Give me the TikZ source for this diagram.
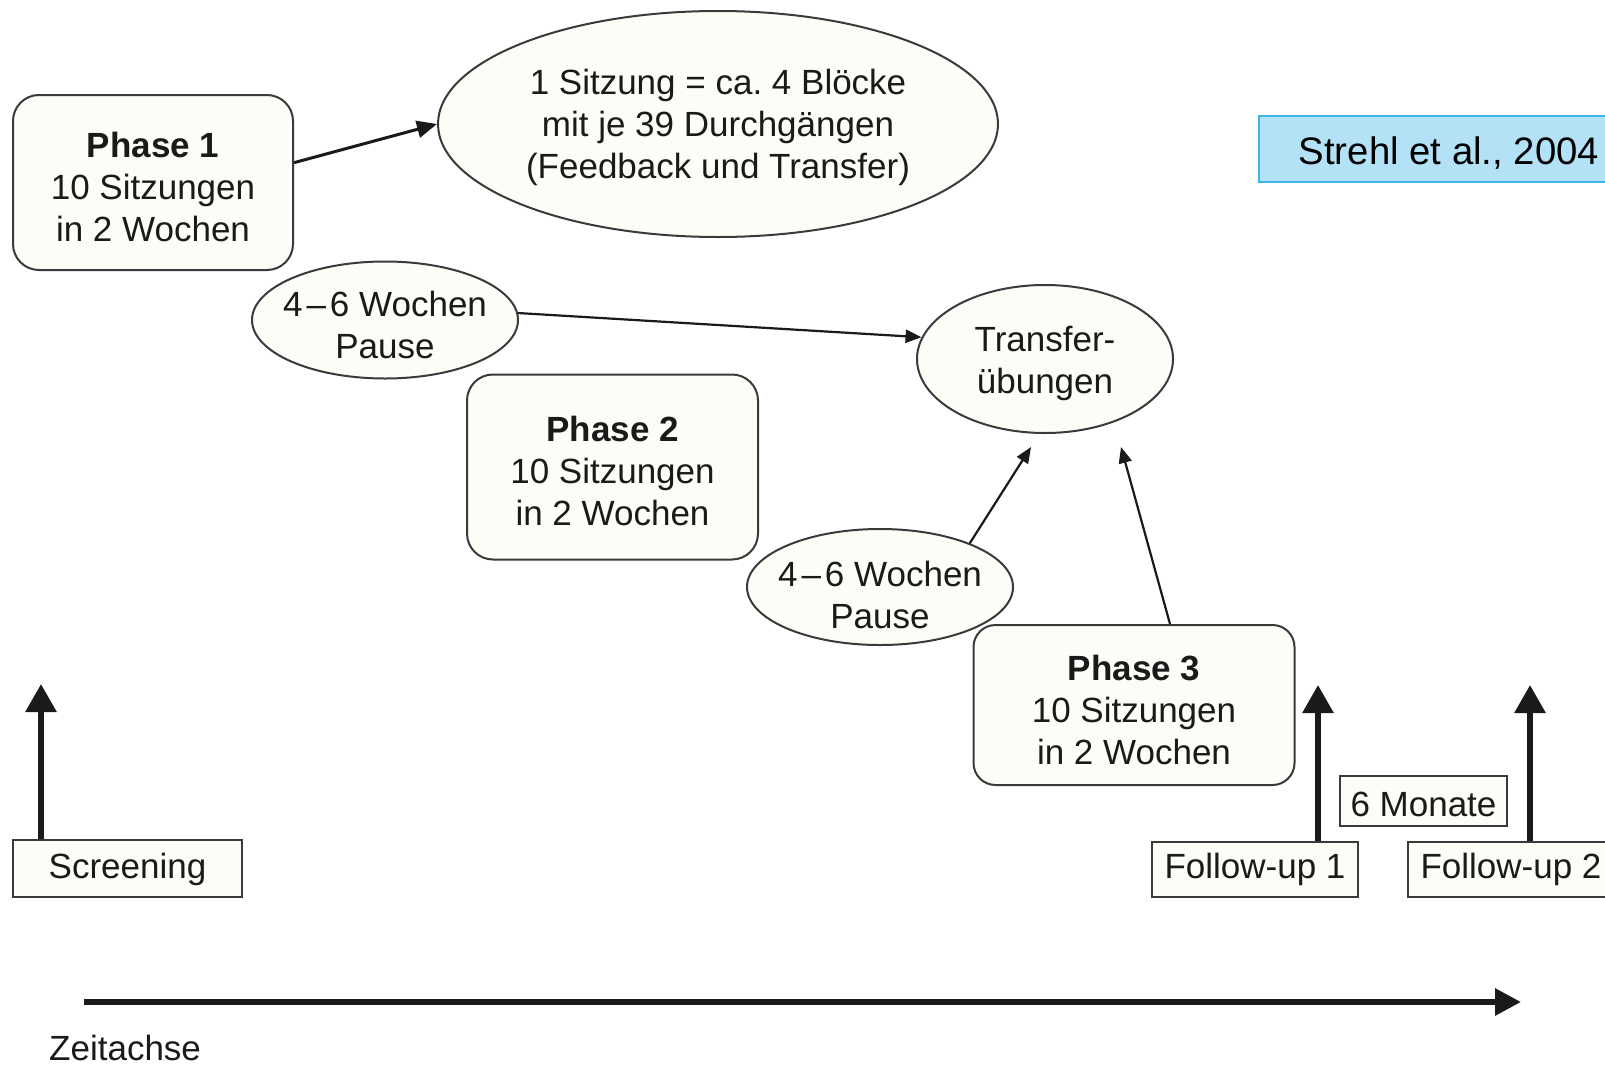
\documentclass[tikz,border=0pt]{standalone}
\usepackage{fontspec}
\setmainfont{Liberation Sans}
\usetikzlibrary{shapes.geometric,arrows.meta,calc}

\definecolor{inkc}{HTML}{1A1A1A}
\definecolor{edgec}{HTML}{3A3A3A}
\definecolor{paperc}{HTML}{FEFCF6}
\definecolor{citefill}{HTML}{B3E1F6}
\definecolor{citeedge}{HTML}{3EB4EC}

% invisible strut that lowers a multi-line node text a little
\newcommand\padtop[1]{\rule{0pt}{#1}}
\newcommand\wochenrange{4\kern4pt–\kern4pt6}
\frenchspacing

\begin{document}
\begin{tikzpicture}[x=1pt,y=-1pt,
  every node/.style={font=\fontsize{35}{42}\selectfont, text=inkc},
  phasebox/.style={draw=edgec, line width=2pt, fill=paperc, rounded corners=26pt,
                   align=center, inner sep=0pt},
  bubble/.style={ellipse, draw=edgec, line width=2pt, fill=paperc, align=center,
                 inner xsep=-14pt, inner ysep=-6pt},
  labelbox/.style={draw=edgec, line width=2pt, fill=paperc, inner sep=0pt},
  linkarrow/.style={draw=inkc, line width=3pt, -{Triangle[length=20pt,width=17pt]}},
  thinarrow/.style={draw=inkc, line width=2.2pt, -{Triangle[length=16pt,width=13pt]}},
  heavyarrow/.style={draw=inkc, line width=6pt, -{Triangle[length=28pt,width=30pt]}},
  axisarrow/.style={draw=inkc, line width=6pt, -{Triangle[length=26pt,width=26pt]}}
]
\useasboundingbox (0,0) rectangle (1605,1068);
\clip (0,0) rectangle (1605,1068);
\fill[white] (0,0) rectangle (1605,1068);

% training phases
\node[phasebox, minimum width=280pt, minimum height=175pt] (p1) at (153,182.5)
  {\padtop{34pt}\textbf{Phase 1}\\10 Sitzungen\\in 2 Wochen};
\node[phasebox, minimum width=291pt, minimum height=185pt] (p2) at (612.5,467)
  {\padtop{34pt}\textbf{Phase 2}\\10 Sitzungen\\in 2 Wochen};
\node[phasebox, minimum width=321pt, minimum height=160pt, rounded corners=22pt] (p3) at (1134,705)
  {\padtop{35pt}\textbf{Phase 3}\\10 Sitzungen\\in 2 Wochen};

% session content and breaks
\node[ellipse, draw=edgec, line width=2pt, fill=paperc, align=center, inner sep=0pt,
      minimum width=560pt, minimum height=226pt] (sitz) at (718,124)
  {\padtop{32pt}1 Sitzung = ca.\ 4 Blöcke\\mit je 39 Durchgängen\\(Feedback und Transfer)};
\node[bubble, minimum width=266pt, minimum height=117pt] (pa1) at (385,320)
  {\padtop{35pt}\wochenrange{} Wochen\\Pause};
\node[bubble, minimum width=266pt, minimum height=116pt] (pa2) at (880,587)
  {\padtop{41pt}\wochenrange{} Wochen\\Pause};
\node[bubble, minimum width=256pt, minimum height=148pt] (tr) at (1045,359)
  {\padtop{35pt}Transfer-\\übungen};

% citation tag
\node[draw=citeedge, fill=citefill, line width=1.5pt, anchor=west, minimum height=66pt,
      inner xsep=40pt, inner ysep=0pt, font=\fontsize{38.3}{46}\selectfont, text=black]
  (cite) at (1258,149) {\padtop{35pt}Strehl et al., 2004};

% time points
\node[labelbox, minimum width=229pt, minimum height=57pt] (scr) at (127.5,868.5) {\padtop{28pt}Screening};
\node[labelbox, minimum width=206pt, minimum height=55pt] (fu1) at (1255,869.5) {Follow-up 1};
\node[labelbox, minimum width=206pt, minimum height=55pt] (fu2) at (1511,869.5) {Follow-up 2};
\node[labelbox, minimum width=167pt, minimum height=50pt] (mon) at (1423.5,801) {\padtop{31pt}6 Monate};

% connectors
\draw[linkarrow] (p1.8) -- (sitz.west);
\draw[thinarrow] (pa1.3) -- (tr.170);
\coordinate (tr-in-a) at ($(tr.south)+(-14,13)$);
\coordinate (tr-in-b) at ($(tr.south)+(76,13)$);
\draw[thinarrow] (pa2.26) -- (tr-in-a);
\draw[thinarrow] ($(p3.north)+(36,0)$) -- (tr-in-b);

% markers on the time line
\coordinate (scr-tip) at (41,684);
\coordinate (fu1-tip) at (1318,685);
\coordinate (fu2-tip) at (1530,685);
\draw[heavyarrow] (scr.north west -| scr-tip) -- (scr-tip);
\draw[heavyarrow] (fu1.north -| fu1-tip) -- (fu1-tip);
\draw[heavyarrow] (fu2.north -| fu2-tip) -- (fu2-tip);

% time axis
\coordinate (axis-start) at (84,1002);
\coordinate (axis-end) at (1521,1002);
\draw[axisarrow] (axis-start) -- (axis-end);
\node[anchor=base west, inner sep=0pt] (axislabel) at (49,1060) {Zeitachse};
\end{tikzpicture}
\end{document}
